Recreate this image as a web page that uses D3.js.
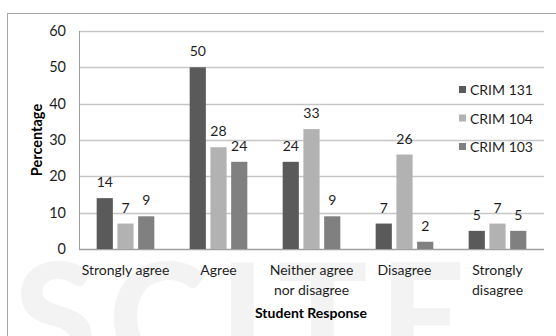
<!DOCTYPE html>
<html>
<head>
<meta charset="utf-8">
<style>
    body { margin: 0; background: #fff; }
    text { font-family: Lato, "Open Sans", sans-serif; fill: #1e1e1e; }
</style>
<script src="https://cdn.jsdelivr.net/npm/d3@7"></script>
</head>
<body>
<div id="chart"></div>
<script>
    // data
    var categories = ["Strongly agree", "Agree", "Neither agree nor disagree", "Disagree", "Strongly disagree"];
    var catLines = [["Strongly agree"], ["Agree"], ["Neither agree", "nor disagree"], ["Disagree"], ["Strongly", "disagree"]];
    var seriesNames = ["CRIM 131", "CRIM 104", "CRIM 103"];
    var crim131 = [14, 50, 24, 7, 5];
    var crim104 = [7, 28, 33, 26, 7];
    var crim103 = [9, 24, 9, 2, 5];
    var yTicks = [0, 10, 20, 30, 40, 50, 60];
    var colors = ["#5a5a5a", "#b2b2b2", "#808080"];

    var W = 556, H = 336;
    var margin = {top: 31, left: 79, right: 12, bottom: 87};

    var svg = d3.select("#chart").append("svg")
        .attr("width", W)
        .attr("height", H);

    // faint watermark behind the chart
    svg.append("text")
        .attr("x", 14)
        .attr("y", 372)
        .attr("font-size", "150px")
        .attr("font-weight", "900")
        .attr("letter-spacing", "12px")
        .style("fill", "#f3f3f3")
        .text("SCITE");

    // outer frame
    svg.append("rect")
        .attr("x", 7.5).attr("y", 13.5)
        .attr("width", W).attr("height", H)
        .attr("fill", "none")
        .attr("stroke", "#a6a6a6");

    var x0 = d3.scaleBand()
        .domain(categories)
        .range([margin.left, W - margin.right])
        .paddingInner(0.38)
        .paddingOuter(0.19);

    var x1 = d3.scaleBand()
        .domain(seriesNames)
        .range([0, x0.bandwidth()])
        .paddingInner(0.22)
        .paddingOuter(0);

    var y = d3.scaleLinear()
        .domain([0, 60])
        .range([H - margin.bottom, margin.top]);

    // gridlines
    svg.append("g").selectAll("line")
        .data(yTicks).enter()
        .append("line")
        .attr("x1", margin.left).attr("x2", W - margin.right)
        .attr("y1", function (d) { return Math.round(y(d)) + 0.5; })
        .attr("y2", function (d) { return Math.round(y(d)) + 0.5; })
        .attr("stroke", function (d) { return d === 0 ? "#a0a0a0" : "#c6c6c6"; })
        .attr("stroke-width", 1.3);

    // y axis line
    svg.append("line")
        .attr("x1", margin.left + 0.5).attr("x2", margin.left + 0.5)
        .attr("y1", y(60)).attr("y2", y(0))
        .attr("stroke", "#a0a0a0");

    // y tick labels
    svg.append("g").selectAll("text")
        .data(yTicks).enter()
        .append("text")
        .attr("x", 66)
        .attr("y", function (d) { return y(d) + 5; })
        .attr("text-anchor", "end")
        .attr("font-size", "14.5px")
        .text(function (d) { return d; });

    // y title
    svg.append("text")
        .attr("transform", "translate(42," + ((y(0) + y(60)) / 2) + ") rotate(-90)")
        .attr("text-anchor", "middle")
        .attr("font-size", "14.5px")
        .attr("font-weight", "bold")
        .style("fill", "#000")
        .text("Percentage");

    var series = [crim131, crim104, crim103];

    var groups = svg.append("g").selectAll("g")
        .data(categories).enter()
        .append("g")
        .attr("transform", function (d) { return "translate(" + x0(d) + ",0)"; });

    groups.selectAll("rect")
        .data(function (d, i) {
            return seriesNames.map(function (s, j) { return {s: s, v: series[j][i], c: colors[j]}; });
        }).enter()
        .append("rect")
        .attr("x", function (d) { return x1(d.s); })
        .attr("y", function (d) { return y(d.v); })
        .attr("width", x1.bandwidth())
        .attr("height", function (d) { return y(0) - y(d.v); })
        .attr("fill", function (d) { return d.c; });

    groups.selectAll("text.val")
        .data(function (d, i) {
            return seriesNames.map(function (s, j) { return {s: s, v: series[j][i]}; });
        }).enter()
        .append("text")
        .attr("class", "val")
        .attr("x", function (d) { return x1(d.s) + x1.bandwidth() / 2; })
        .attr("y", function (d) { return y(d.v) - 11; })
        .attr("text-anchor", "middle")
        .attr("font-size", "14px")
        .text(function (d) { return d.v; });

    // category labels
    var catLabels = svg.append("g").selectAll("text")
        .data(categories).enter()
        .append("text")
        .attr("x", function (d) { return x0(d) + x0.bandwidth() / 2; })
        .attr("y", 275)
        .attr("text-anchor", "middle")
        .attr("font-size", "14px");

    catLabels.selectAll("tspan")
        .data(function (d, i) { return catLines[i]; }).enter()
        .append("tspan")
        .attr("x", function () { return d3.select(this.parentNode).attr("x"); })
        .attr("dy", function (d, i) { return i === 0 ? 0 : 20; })
        .text(function (d) { return d; });

    // x title
    svg.append("text")
        .attr("x", 311)
        .attr("y", 318)
        .attr("text-anchor", "middle")
        .attr("font-size", "14px")
        .attr("font-weight", "bold")
        .style("fill", "#000")
        .text("Student Response");

    // legend
    var legend = svg.append("g").selectAll("g")
        .data(seriesNames).enter()
        .append("g")
        .attr("transform", function (d, i) { return "translate(459," + (90 + i * 28.5) + ")"; });

    legend.append("rect")
        .attr("x", 0).attr("y", -4)
        .attr("width", 7).attr("height", 7)
        .attr("fill", function (d, i) { return colors[i]; });

    legend.append("text")
        .attr("x", 11)
        .attr("y", 5)
        .attr("font-size", "14px")
        .text(function (d) { return d; });
</script>
</body>
</html>
